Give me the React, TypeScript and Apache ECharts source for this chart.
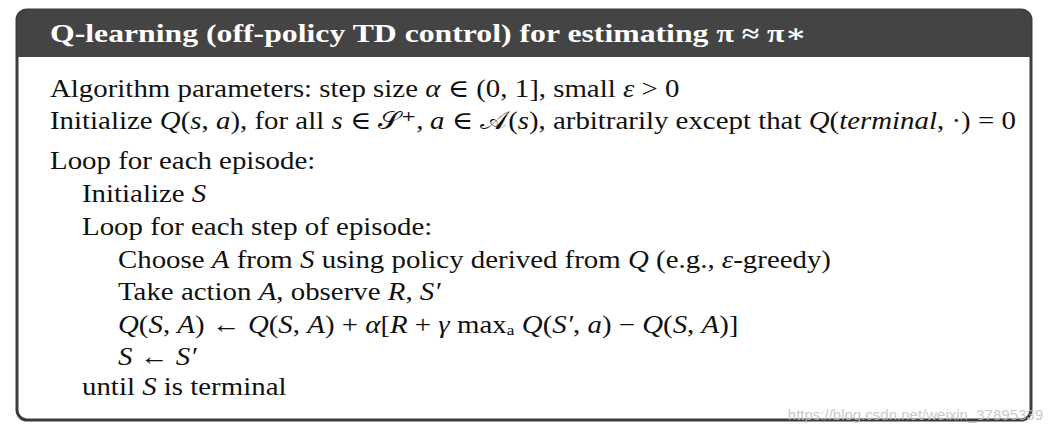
import { useEffect, useRef } from 'react';
import * as echarts from 'echarts';

type Seg = [string, 'n' | 'i'];

const title = 'Q-learning (off-policy TD control) for estimating π ≈ π∗';

// each algorithm line: indent level and its text segments (n = roman, i = italic math)
const lineIndents = [0, 0, 0, 1, 1, 2, 2, 2, 2, 1];
const lineSegments: Seg[][] = [
    [['Algorithm parameters: step size ', 'n'], ['α', 'i'], [' ∈ (0, 1], small ', 'n'], ['ε', 'i'], [' > 0', 'n']],
    [
        ['Initialize ', 'n'], ['Q', 'i'], ['(', 'n'], ['s', 'i'], [', ', 'n'], ['a', 'i'], ['), for all ', 'n'], ['s', 'i'],
        [' ∈ 𝒮⁺, ', 'n'], ['a', 'i'], [' ∈ 𝒜(', 'n'], ['s', 'i'], ['), arbitrarily except that ', 'n'], ['Q', 'i'],
        ['(', 'n'], ['terminal', 'i'], [', ·) = 0', 'n'],
    ],
    [['Loop for each episode:', 'n']],
    [['Initialize ', 'n'], ['S', 'i']],
    [['Loop for each step of episode:', 'n']],
    [
        ['Choose ', 'n'], ['A', 'i'], [' from ', 'n'], ['S', 'i'], [' using policy derived from ', 'n'], ['Q', 'i'],
        [' (e.g., ', 'n'], ['ε', 'i'], ['-greedy)', 'n'],
    ],
    [['Take action ', 'n'], ['A', 'i'], [', observe ', 'n'], ['R', 'i'], [', ', 'n'], ['S′', 'i']],
    [
        ['Q', 'i'], ['(', 'n'], ['S', 'i'], [', ', 'n'], ['A', 'i'], [') ← ', 'n'], ['Q', 'i'], ['(', 'n'], ['S', 'i'],
        [', ', 'n'], ['A', 'i'], [') + ', 'n'], ['α', 'i'], ['[', 'n'], ['R', 'i'], [' + ', 'n'], ['γ', 'i'],
        [' maxₐ ', 'n'], ['Q', 'i'], ['(', 'n'], ['S′', 'i'], [', ', 'n'], ['a', 'i'], [') − ', 'n'], ['Q', 'i'],
        ['(', 'n'], ['S', 'i'], [', ', 'n'], ['A', 'i'], [')]', 'n'],
    ],
    [['S', 'i'], [' ← ', 'n'], ['S′', 'i']],
    [['until ', 'n'], ['S', 'i'], [' is terminal', 'n']],
];
const lineY = [89, 121, 161, 194, 227, 260, 292, 325, 357, 387];
const watermark = 'https://blog.csdn.net/weixin_37895339';

const FONT = '"Liberation Serif", "DejaVu Serif", serif';

const App = () => {
    const chartRef = useRef<HTMLDivElement>(null);

    useEffect(() => {
        if (!chartRef.current) return;
        document.body.style.margin = '0';
        const chart = echarts.init(chartRef.current, undefined, { renderer: 'svg' });

        const indentX = [50, 82, 118];
        // Computer Modern is wider than Liberation Serif, so stretch horizontally
        const lines = lineSegments.map((segs, k) => ({
            type: 'text',
            x: indentX[lineIndents[k]],
            y: lineY[k],
            scaleX: 1.155,
            style: {
                text: segs.map(([t, s]) => `{${s}|${t}}`).join(''),
                verticalAlign: 'middle',
                rich: {
                    n: { fontFamily: FONT, fontSize: 25, fill: '#111' },
                    i: { fontFamily: FONT, fontSize: 25, fontStyle: 'italic', fill: '#111' },
                },
            },
        }));

        chart.setOption({
            animation: false,
            graphic: [
                {
                    type: 'rect',
                    shape: { x: 17, y: 10, width: 1014, height: 410, r: 10 },
                    style: { fill: '#fff', stroke: '#3c3c3c', lineWidth: 3 },
                },
                {
                    type: 'rect',
                    shape: { x: 17, y: 10, width: 1014, height: 47, r: [10, 10, 0, 0] },
                    style: { fill: '#444' },
                },
                {
                    type: 'text',
                    x: 50,
                    y: 34,
                    scaleX: 1.27,
                    style: {
                        text: title,
                        fontFamily: FONT,
                        fontSize: 25,
                        fontWeight: 'bold',
                        fill: '#fff',
                        verticalAlign: 'middle',
                    },
                },
                ...lines,
                {
                    type: 'text',
                    x: 1043,
                    y: 414,
                    style: {
                        text: watermark,
                        align: 'right',
                        verticalAlign: 'middle',
                        fontFamily: '"Liberation Sans", Arial, sans-serif',
                        fontSize: 15,
                        fill: 'rgba(190,190,190,0.85)',
                    },
                },
            ],
        });

        return () => chart.dispose();
    }, []);

    return <div ref={chartRef} style={{ width: 1054, height: 435 }} />;
};

export default App;
